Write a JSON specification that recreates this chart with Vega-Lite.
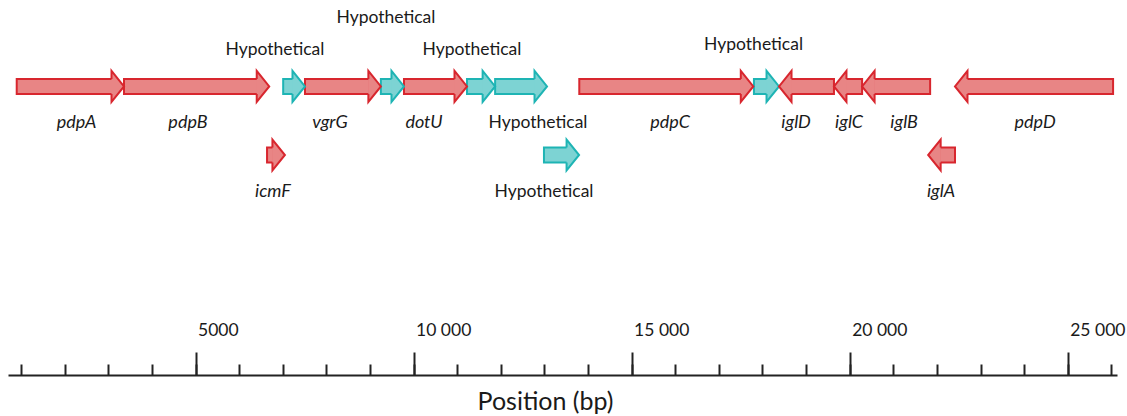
{
  "$schema": "https://vega.github.io/schema/vega-lite/v6.json",
  "autosize": {"type": "none"},
  "padding": {"left": 8, "top": 0, "right": 10, "bottom": 41},
  "width": 1109,
  "height": 375,
  "background": "white",
  "config": {"view": {"stroke": null}},
  "data": {
    "values": [
      {"gene": "pdpA", "kind": "gene", "strand": "+", "lane": 1, "start": 900, "end": 3360, "label_x": 2273, "label_pos": "below"},
      {"gene": "pdpB", "kind": "gene", "strand": "+", "lane": 1, "start": 3360, "end": 6690, "label_x": 4826, "label_pos": "below"},
      {"gene": "Hypothetical", "kind": "hyp", "strand": "+", "lane": 1, "start": 7010, "end": 7510, "label_x": 6821, "label_pos": "above"},
      {"gene": "vgrG", "kind": "gene", "strand": "+", "lane": 1, "start": 7510, "end": 9250, "label_x": 8083, "label_pos": "below"},
      {"gene": "Hypothetical", "kind": "hyp", "strand": "+", "lane": 1, "start": 9250, "end": 9780, "label_x": 9367, "label_pos": "above_high"},
      {"gene": "dotU", "kind": "gene", "strand": "+", "lane": 1, "start": 9780, "end": 11225, "label_x": 10238, "label_pos": "below"},
      {"gene": "Hypothetical", "kind": "hyp", "strand": "+", "lane": 1, "start": 11225, "end": 11870, "label_x": 11339, "label_pos": "above"},
      {"gene": "Hypothetical", "kind": "hyp", "strand": "+", "lane": 1, "start": 11870, "end": 13060, "label_x": 12853, "label_pos": "below"},
      {"gene": "pdpC", "kind": "gene", "strand": "+", "lane": 1, "start": 13800, "end": 17790, "label_x": 15881, "label_pos": "below"},
      {"gene": "Hypothetical", "kind": "hyp", "strand": "+", "lane": 1, "start": 17805, "end": 18380, "label_x": 17796, "label_pos": "above_mid"},
      {"gene": "iglD", "kind": "gene", "strand": "-", "lane": 1, "start": 18380, "end": 19640, "label_x": 18771, "label_pos": "below"},
      {"gene": "iglC", "kind": "gene", "strand": "-", "lane": 1, "start": 19640, "end": 20285, "label_x": 19986, "label_pos": "below"},
      {"gene": "iglB", "kind": "gene", "strand": "-", "lane": 1, "start": 20285, "end": 21845, "label_x": 21248, "label_pos": "below"},
      {"gene": "pdpD", "kind": "gene", "strand": "-", "lane": 1, "start": 22415, "end": 26040, "label_x": 24252, "label_pos": "below"},
      {"gene": "icmF", "kind": "gene", "strand": "+", "lane": 2, "start": 6640, "end": 7050, "label_x": 6775, "label_pos": "below"},
      {"gene": "Hypothetical", "kind": "hyp", "strand": "+", "lane": 2, "start": 12990, "end": 13795, "label_x": 12991, "label_pos": "below"},
      {"gene": "iglA", "kind": "gene", "strand": "-", "lane": 2, "start": 21800, "end": 22415, "label_x": 22096, "label_pos": "below"}
    ]
  },
  "resolve": {"axis": {"x": "independent"}},
  "layer": [
    {
      "transform": [{"filter": "datum.strand === '+'"}],
      "mark": {"type": "rect", "x2Offset": -11, "yOffset": -7.5, "y2Offset": 7.5, "strokeWidth": 2},
      "encoding": {
        "x": {"field": "start", "type": "quantitative",
              "scale": {"domain": [700, 26130], "zero": false, "nice": false},
              "axis": {"orient": "bottom", "values": [1000,2000,3000,4000,5000,6000,7000,8000,9000,10000,11000,12000,13000,14000,15000,16000,17000,18000,19000,20000,21000,22000,23000,24000,25000,26000],
                       "tickSize": -11, "tickWidth": 2, "tickColor": "#222222", "labels": false, "title": null, "grid": false,
                       "domain": true, "domainColor": "#222222", "domainWidth": 2}},
        "x2": {"field": "end"},
        "y": {"field": "lane", "type": "quantitative", "scale": {"domain": [-0.2595, 5.207], "reverse": true, "zero": false, "nice": false}, "axis": null},
        "y2": {"field": "lane"},
        "fill": {"field": "kind", "type": "nominal", "scale": {"domain": ["gene", "hyp"], "range": ["#E88585", "#7DD3D3"]}, "legend": null},
        "stroke": {"field": "kind", "type": "nominal", "scale": {"domain": ["gene", "hyp"], "range": ["#D8262E", "#1EB4B4"]}, "legend": null}
      }
    },
    {
      "transform": [{"filter": "datum.strand === '-'"}],
      "mark": {"type": "rect", "xOffset": 11, "yOffset": -7.5, "y2Offset": 7.5, "strokeWidth": 2},
      "encoding": {
        "x": {"field": "start", "type": "quantitative", "axis": null},
        "x2": {"field": "end"},
        "y": {"field": "lane", "type": "quantitative", "axis": null},
        "y2": {"field": "lane"},
        "fill": {"field": "kind", "type": "nominal", "legend": null},
        "stroke": {"field": "kind", "type": "nominal", "legend": null}
      }
    },
    {
      "transform": [{"filter": "datum.strand === '+'"}],
      "mark": {"type": "point", "filled": true, "opacity": 1, "strokeWidth": 2, "size": 961,
               "shape": "M-0.806,-0.484L-0.806,-1L0,0L-0.806,1L-0.806,0.484"},
      "encoding": {
        "x": {"field": "end", "type": "quantitative",
              "axis": {"orient": "bottom", "values": [5000, 10000, 15000, 20000, 25000],
                       "tickSize": -23, "tickWidth": 2, "tickColor": "#222222", "domain": false, "grid": false,
                       "labelAlign": "left", "labelBaseline": "alphabetic", "labelPadding": -16.5, "labelOffset": 2,
                       "labelFlush": false, "labelOverlap": false, "labelBound": false,
                       "labelExpr": "datum.value < 10000 ? '' + datum.value : replace(format(datum.value, ','), ',', ' ')",
                       "labelFont": "Lato", "labelFontSize": 17.5, "labelColor": "#1a1a1a",
                       "title": "Position (bp)", "titleFont": "Lato", "titleFontSize": 25, "titleFontWeight": "normal",
                       "titleColor": "#1a1a1a", "titleX": 537, "titleY": 34, "titleBaseline": "alphabetic", "titleAlign": "center", "titleAnchor": null}},
        "y": {"field": "lane", "type": "quantitative", "axis": null},
        "fill": {"field": "kind", "type": "nominal", "legend": null},
        "stroke": {"field": "kind", "type": "nominal", "legend": null}
      }
    },
    {
      "transform": [{"filter": "datum.strand === '-'"}],
      "mark": {"type": "point", "filled": true, "opacity": 1, "strokeWidth": 2, "size": 961,
               "shape": "M0.806,-0.484L0.806,-1L0,0L0.806,1L0.806,0.484"},
      "encoding": {
        "x": {"field": "start", "type": "quantitative", "axis": null},
        "y": {"field": "lane", "type": "quantitative", "axis": null},
        "fill": {"field": "kind", "type": "nominal", "legend": null},
        "stroke": {"field": "kind", "type": "nominal", "legend": null}
      }
    },
    {
      "transform": [{"filter": "datum.kind === 'gene'"}],
      "mark": {"type": "text", "font": "Lato", "fontStyle": "italic", "fontSize": 18, "color": "#1a1a1a", "baseline": "alphabetic", "align": "center", "dy": 42},
      "encoding": {
        "x": {"field": "label_x", "type": "quantitative", "axis": null},
        "y": {"field": "lane", "type": "quantitative", "axis": null},
        "text": {"field": "gene"}
      }
    },
    {
      "transform": [{"filter": "datum.kind === 'hyp' && datum.label_pos === 'below'"}],
      "mark": {"type": "text", "font": "Lato", "fontSize": 17.5, "color": "#1a1a1a", "baseline": "alphabetic", "align": "center", "dy": 42},
      "encoding": {
        "x": {"field": "label_x", "type": "quantitative", "axis": null},
        "y": {"field": "lane", "type": "quantitative", "axis": null},
        "text": {"field": "gene"}
      }
    },
    {
      "transform": [{"filter": "datum.label_pos === 'above'"}],
      "mark": {"type": "text", "font": "Lato", "fontSize": 17.5, "color": "#1a1a1a", "baseline": "alphabetic", "align": "center", "dy": -31.4},
      "encoding": {
        "x": {"field": "label_x", "type": "quantitative", "axis": null},
        "y": {"field": "lane", "type": "quantitative", "axis": null},
        "text": {"field": "gene"}
      }
    },
    {
      "transform": [{"filter": "datum.label_pos === 'above_mid'"}],
      "mark": {"type": "text", "font": "Lato", "fontSize": 17.5, "color": "#1a1a1a", "baseline": "alphabetic", "align": "center", "dy": -36.4},
      "encoding": {
        "x": {"field": "label_x", "type": "quantitative", "axis": null},
        "y": {"field": "lane", "type": "quantitative", "axis": null},
        "text": {"field": "gene"}
      }
    },
    {
      "transform": [{"filter": "datum.label_pos === 'above_high'"}],
      "mark": {"type": "text", "font": "Lato", "fontSize": 17.5, "color": "#1a1a1a", "baseline": "alphabetic", "align": "center", "dy": -63.1},
      "encoding": {
        "x": {"field": "label_x", "type": "quantitative", "axis": null},
        "y": {"field": "lane", "type": "quantitative", "axis": null},
        "text": {"field": "gene"}
      }
    }
  ]
}
